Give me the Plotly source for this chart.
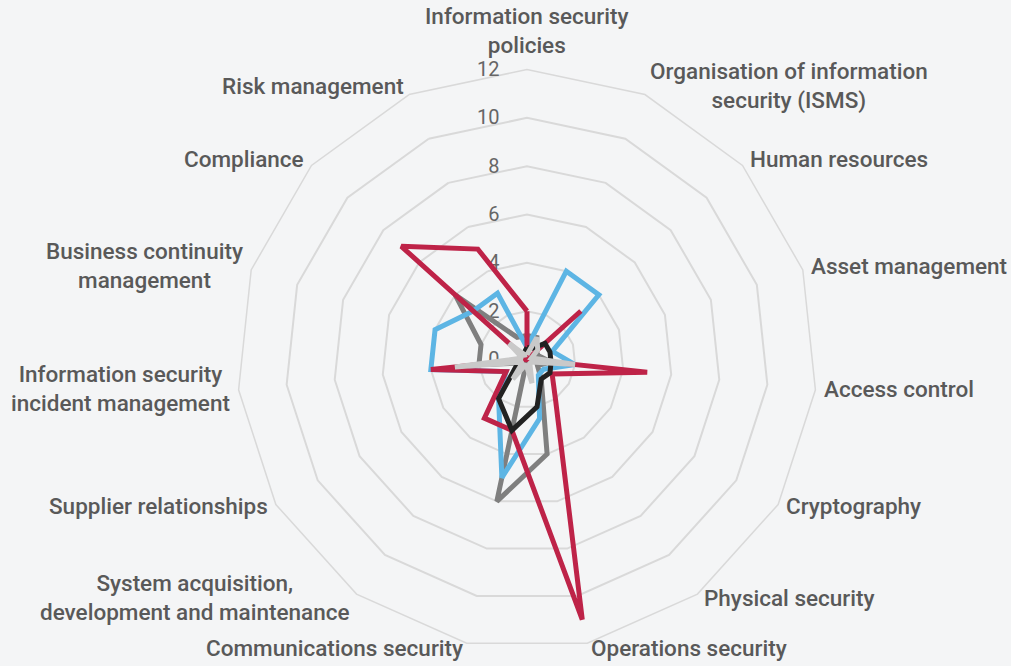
import math
import plotly.graph_objects as go

categories = [
    "Information security<br>policies",
    "Organisation of information<br>security (ISMS)",
    "Human resources",
    "Asset management",
    "Access control",
    "Cryptography",
    "Physical security",
    "Operations security",
    "Communications security",
    "System acquisition,<br>development and maintenance",
    "Supplier relationships",
    "Information security<br>incident management",
    "Business continuity<br>management",
    "Compliance",
    "Risk management",
]

series_dark_gray = [1, 1, 0.5, 0.5, 1, 0.5, 1, 4, 6, 0, 0.3, 2, 2, 4, 1]
series_blue = [0.5, 4, 4, 1.1, 2, 0.8, 0.8, 2.5, 5, 2, 1, 4, 4, 3, 3]
series_red = [2, 0, 3, 0, 5, 1.2, 2, 11, 3, 3, 1, 4, 0, 7, 5]
series_black = [0.5, 0.5, 1, 1, 1, 1.1, 1, 2, 3, 2, 0.5, 0.3, 0.3, 0.3, 0.3]
series_light_gray = [0.2, 1, 0.6, 0.2, 2, 0.2, 0.2, 1, 0.2, 1, 0.2, 3, 0.2, 1, 0.2]

radial_ticks = [0, 2, 4, 6, 8, 10, 12]
radial_max = 12

series = [
    (series_dark_gray, "#7F7F7F"),
    (series_blue, "#5DB5E4"),
    (series_red, "#BE2348"),
    (series_black, "#222222"),
    (series_light_gray, "#C9C9C9"),
]

W, H = 1011, 666
dom_x = [0.23442, 0.80811]
dom_y = [0.02477, 0.89565]

fig = go.Figure()
for vals, color in series:
    fig.add_trace(go.Scatterpolar(
        r=vals + vals[:1],
        theta=categories + categories[:1],
        mode="lines",
        line=dict(color=color, width=5),
        hoverinfo="skip",
    ))

label_font = dict(family="Roboto", size=22.5, color="#595959", weight=500)
tick_font = dict(family="Roboto", size=20, color="#666666")

# category labels placed just outside the outer polygon of the polar axis
cx = (dom_x[0] + dom_x[1]) / 2
cy = (dom_y[0] + dom_y[1]) / 2
R = (dom_x[1] - dom_x[0]) * W / 2
pad = 7
annotations = []
n = len(categories)
for i, name in enumerate(categories):
    th = math.radians(360.0 * i / n)
    s, c = math.sin(th), math.cos(th)
    x = cx + (R + pad) * s / W
    y = cy + (R + pad) * c / H
    if abs(s) < 0.1:
        xa = "center"
    else:
        xa = "left" if s > 0 else "right"
    if c > 0.99:
        ya = "bottom"
    elif c < -0.99:
        ya = "top"
    else:
        ya = "middle"
    annotations.append(dict(
        x=x, y=y, xref="paper", yref="paper", text=name, showarrow=False,
        xanchor=xa, yanchor=ya, align="center", font=label_font, yshift=2,
    ))

fig.update_layout(
    width=W,
    height=H,
    margin=dict(l=0, r=0, t=0, b=0),
    paper_bgcolor="#F4F5F6",
    showlegend=False,
    annotations=annotations,
    polar=dict(
        domain=dict(x=dom_x, y=dom_y),
        bgcolor="rgba(0,0,0,0)",
        gridshape="linear",
        radialaxis=dict(
            range=[0, radial_max],
            tickvals=radial_ticks,
            angle=90,
            tickangle=90,
            showline=False,
            ticks="outside",
            ticklen=20,
            tickcolor="rgba(0,0,0,0)",
            gridcolor="#D9D9D9",
            gridwidth=1.5,
            tickfont=tick_font,
            layer="below traces",
            side="counterclockwise",
        ),
        angularaxis=dict(
            direction="clockwise",
            rotation=90,
            showgrid=False,
            showline=True,
            linecolor="#D9D9D9",
            linewidth=1.5,
            ticks="",
            showticklabels=False,
            layer="below traces",
        ),
    ),
)

fig.write_html("out.html", config={"displayModeBar": False},
               post_script="document.body.style.margin='0px';")
